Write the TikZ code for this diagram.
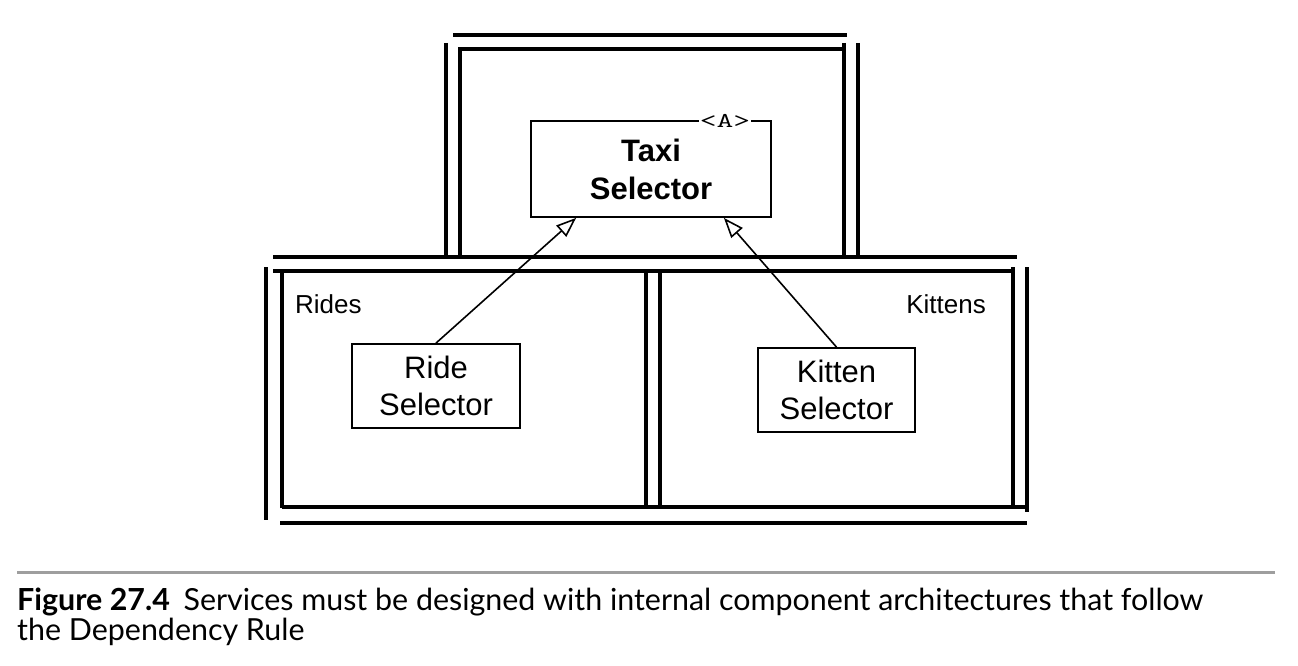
\documentclass[tikz,border=0pt]{standalone}
\usepackage{fontspec}
\usepackage{graphicx}
\setmainfont{Liberation Sans}
\newfontfamily\capfont{Lato}
\usetikzlibrary{arrows.meta}
\begin{document}
\begin{tikzpicture}[x=1pt,y=-1pt,
  frameline/.style={line width=3.2pt, line cap=butt},
  classbox/.style={draw, line width=1.8pt, rectangle, inner sep=0pt, align=center},
  boxtext/.style={font=\fontsize{31}{37.5}\selectfont},
  pkglabel/.style={font=\fontsize{26}{30}\selectfont, inner sep=0pt},
  realizes/.style={line width=1.6pt, -{Triangle[open, length=20pt, width=15pt, line width=1.6pt]}},
  captext/.style={anchor=base west, inner sep=0pt, font=\fontsize{30.4}{32}\selectfont\capfont},
]
\useasboundingbox (0,0) rectangle (1298,666);

% ---- top component frame ----
\draw[frameline] (453,35) -- (847,35);
\draw[frameline] (446,43) -- (446,257);
\draw[frameline] (858,43) -- (858,257);
\draw[frameline] (458,49) -- (844,49);
\draw[frameline] (460,49) -- (460,257);
\draw[frameline] (844,43) -- (844,257);
\draw[frameline] (273,257) -- (1017,257);

% ---- lower component frame ----
\draw[frameline] (273,271) -- (1013,271);
\draw[frameline] (266,267) -- (266,520);
\draw[frameline] (282,271) -- (282,508);
\draw[frameline] (646,271) -- (646,507);
\draw[frameline] (660,271) -- (660,507);
\draw[frameline] (1013,267) -- (1013,508);
\draw[frameline] (1027,267) -- (1027,512);
\draw[frameline] (282,507) -- (1027,507);
\draw[frameline] (280,523) -- (1027,523);

% ---- package labels ----
\node[pkglabel, anchor=base west] (rides) at (295,313) {Rides};
\node[pkglabel, anchor=base east] (kittens) at (986,313) {Kittens};

% ---- classes ----
\node[classbox, boxtext, font=\fontsize{31}{38}\selectfont\bfseries,
      minimum width=240pt, minimum height=96pt] (taxi) at (651,169) {Taxi\\Selector};
\node[fill=white, inner xsep=1pt, inner ysep=0pt,
      font=\fontsize{21}{24}\selectfont\ttfamily\addfontfeatures{FakeBold=2.5}] (abs) at (725,121)
      {\scalebox{1.55}[1]{<A>}};
\node[classbox, boxtext, minimum width=168pt, minimum height=84pt] (ride) at (436,386) {Ride\\Selector};
\node[classbox, boxtext, minimum width=157pt, minimum height=84pt] (kitten) at (836.5,390) {Kitten\\Selector};

% ---- dependencies ----
\draw[realizes] (ride.north) -- ([xshift=46pt]taxi.south west);
\draw[realizes] (kitten.north) -- ([xshift=-48pt]taxi.south east);

% ---- caption ----
\draw[color=black!38, line width=3pt] (17,572) -- (1275,572);
\node[captext] (cap1) at (17,610)
  {\textbf{Figure 27.4}\hspace{0.45em}Services must be designed with internal component architectures that follow};
\node[captext] (cap2) at (17,640) {the Dependency Rule};
\end{tikzpicture}
\end{document}
